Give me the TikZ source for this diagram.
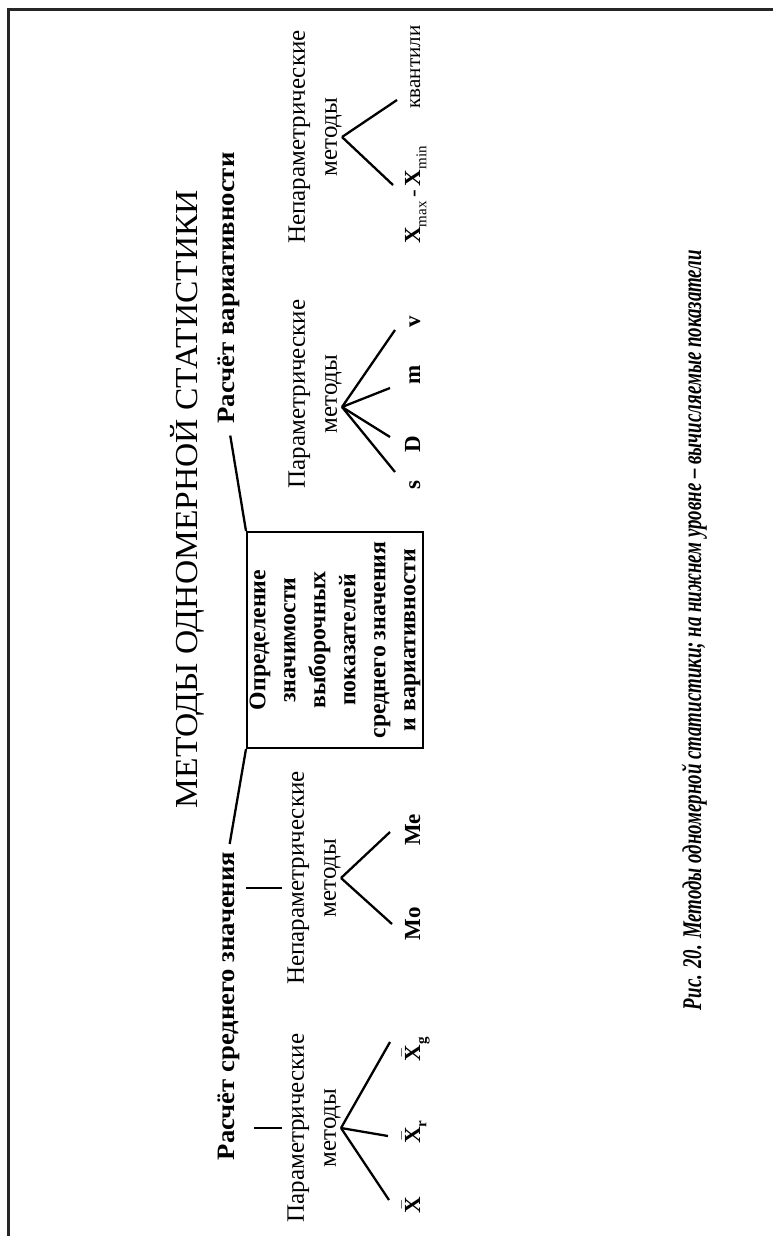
\documentclass[tikz,border=0pt]{standalone}
\usepackage{graphicx}
\usepackage{fontspec}
\setmainfont{Liberation Serif}
\usetikzlibrary{calc}
\newcommand\fitw[2]{\resizebox{#1}{\height}{#2}}
\newcommand\xb{$\bar{\hbox{\bfseries X}}$}
\newcommand\lowsub[1]{\raisebox{-0.28em}{\fontsize{15}{15}\selectfont\mdseries #1}}
\begin{document}
\begin{tikzpicture}[x=1pt,y=-1pt,
  every node/.style={rotate=90,inner sep=0pt},
  title/.style={font=\fontsize{32}{36}\selectfont, anchor=base},
  heading/.style={font=\fontsize{25}{30}\selectfont\bfseries, anchor=base},
  method/.style={font=\fontsize{25}{32}\selectfont, align=center, anchor=south},
  value/.style={font=\fontsize{23}{26}\selectfont\bfseries, anchor=base},
  quant/.style={font=\fontsize{21}{26}\selectfont, anchor=base},
  boxnode/.style={draw, line width=2pt, minimum width=216pt, minimum height=176pt,
    align=center, font=\fontsize{23.8}{30}\selectfont\bfseries},
  wire/.style={line width=2.3pt},
  caption/.style={font=\fontsize{27}{30}\selectfont\bfseries\itshape, anchor=base}]
\fill[white] (0,0) rectangle (773,1236);
\useasboundingbox (0,0) rectangle (773,1236);
\draw[line width=3pt, black!85, line join=miter] (773,10) -- (8.5,10) -- (8.5,1236);

\node[title] (title) at (197,499) {\fitw{618pt}{МЕТОДЫ ОДНОМЕРНОЙ СТАТИСТИКИ}};
\node[heading] (hmean) at (234,1006) {\fitw{308pt}{Расчёт среднего значения}};
\node[heading] (hvar) at (234,288) {\fitw{271pt}{Расчёт вариативности}};
\node[boxnode] (box) at (335,640) {Определение\\значимости\\выборочных\\показателей\\среднего значения\\и вариативности};
\draw[wire, shorten <=8pt] (hmean.east) -- (box.north west);
\draw[wire, shorten <=12pt] (hvar.west) -- (box.north east);

\node[method] (lpm) at (341,1128) {Параметрические\\методы};
\node[method] (lnm) at (341,878) {Непараметрические\\методы};
\node[method] (rpm) at (342,394) {Параметрические\\методы};
\node[method] (rnm) at (342,137) {Непараметрические\\методы};

\draw[wire] ([xshift=-33pt]lpm.north) -- ([xshift=-5pt]lpm.north);
\draw[wire] ([xshift=-41pt,yshift=-10pt]lnm.north) -- ([xshift=-5pt,yshift=-10pt]lnm.north);

\node[value] (x1) at (420,1205) {\xb};
\node[value] (x2) at (420,1132) {\xb\lowsub{\bfseries r}};
\node[value] (x3) at (420,1049) {\xb\lowsub{\bfseries g}};
\node[value] (mo) at (420,924) {Mo};
\node[value] (me) at (420,830) {Me};
\node[value] (vs) at (420,485) {s};
\node[value] (vd) at (420,444) {D};
\node[value] (vm) at (420,375) {m};
\node[value] (vv) at (420,322) {v};
\node[value] (xr) at (420,195) {X\lowsub{max}{\mdseries\,-\,}X\lowsub{min}};
\node[quant] (kv) at (420,67) {квантили};

\coordinate (a3) at ([yshift=-13pt]rpm.south);
\coordinate (e11) at (389,1200);
\coordinate (e12) at (388,1136);
\coordinate (e13) at (390,1042);
\coordinate (e21) at (392,924);
\coordinate (e22) at (390,832);
\coordinate (e31) at (395,472);
\coordinate (e32) at (390,437);
\coordinate (e33) at (390,388);
\coordinate (e34) at (395,330);
\coordinate (e41) at (393,185);
\coordinate (e42) at (397,100);

\draw[wire] (lpm.south) -- (e11);
\draw[wire] (lpm.south) -- (e12);
\draw[wire] (lpm.south) -- (e13);
\draw[wire] (lnm.south) -- (e21);
\draw[wire] (lnm.south) -- (e22);
\draw[wire] (a3) -- (e31);
\draw[wire] (a3) -- (e32);
\draw[wire] (a3) -- (e33);
\draw[wire] (a3) -- (e34);
\draw[wire] (rnm.south) -- (e41);
\draw[wire] (rnm.south) -- (e42);

\node[caption] (cap) at (701,630) {\fitw{760pt}{Рис. 20. Методы одномерной статистики; на нижнем уровне – вычисляемые показатели}};
\end{tikzpicture}
\end{document}
